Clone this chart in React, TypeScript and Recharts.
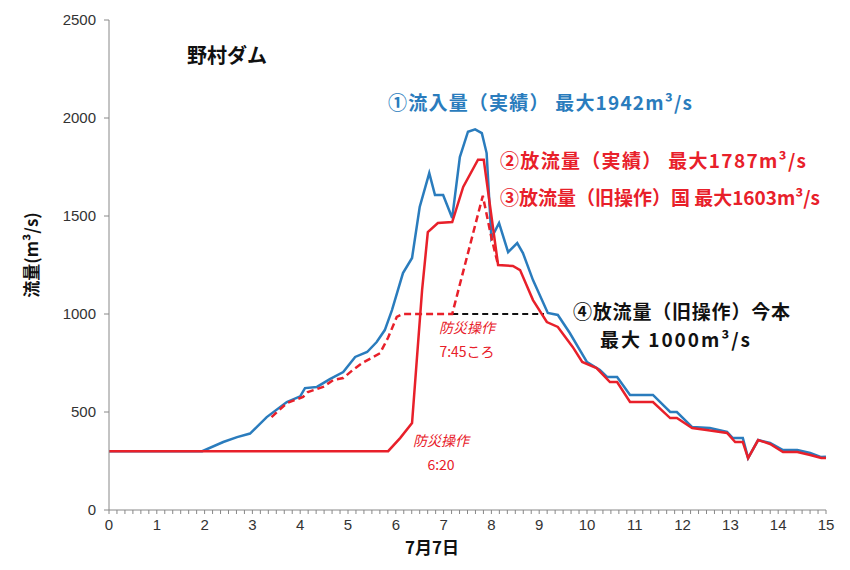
import React from 'react';
import { LineChart, Line, XAxis, YAxis } from 'recharts';

// [hour, m3/s]
const inflowActual: [number, number][] = [
  [0, 300], [1.95, 300], [2.39, 347], [2.68, 372], [2.95, 390], [3.3, 474], [3.72, 551],
  [4.0, 580], [4.1, 622], [4.35, 628], [4.62, 668], [4.9, 704], [5.15, 781], [5.4, 806],
  [5.6, 857], [5.77, 918], [5.92, 1020], [6.15, 1209], [6.34, 1286], [6.5, 1546],
  [6.7, 1719], [6.82, 1607], [6.99, 1607], [7.18, 1490], [7.34, 1801], [7.51, 1930],
  [7.66, 1942], [7.8, 1923], [7.9, 1821], [8.0, 1388], [8.16, 1464], [8.35, 1316],
  [8.54, 1362], [8.66, 1311], [8.87, 1173], [9.18, 1005], [9.39, 995], [9.64, 903],
  [10.0, 755], [10.27, 714], [10.42, 679], [10.63, 679], [10.9, 587], [11.38, 587],
  [11.74, 500], [11.88, 500], [12.2, 423], [12.57, 418], [12.93, 398], [13.05, 367],
  [13.26, 367], [13.37, 265], [13.58, 357], [13.83, 342], [14.1, 306], [14.4, 306],
  [14.67, 291], [14.9, 270], [15, 272],
];

const releaseActual: [number, number][] = [
  [0, 300], [5.84, 300], [6.09, 367], [6.34, 444], [6.45, 800], [6.55, 1122], [6.67, 1418],
  [6.88, 1464], [7.18, 1469], [7.41, 1648], [7.72, 1787], [7.84, 1787], [8.14, 1250],
  [8.45, 1245], [8.6, 1224], [8.87, 1071], [9.16, 959], [9.39, 934], [9.7, 832], [9.9, 755],
  [10.2, 724], [10.48, 653], [10.63, 653], [10.9, 551], [11.38, 551], [11.74, 469],
  [11.88, 469], [12.2, 418], [12.5, 408], [12.93, 393], [13.1, 347], [13.26, 347],
  [13.37, 265], [13.58, 357], [13.83, 337], [14.1, 296], [14.4, 296], [14.67, 281],
  [14.9, 265], [15, 265],
];

const releaseOldGov: [number, number][] = [
  [3.4, 474], [3.72, 545], [4.06, 577], [4.16, 602], [4.48, 628], [4.69, 663], [4.9, 673],
  [5.1, 714], [5.3, 750], [5.67, 800], [5.84, 880], [6.02, 985], [6.15, 1000], [7.18, 1000],
  [7.82, 1603], [8.0, 1390], [8.14, 1250],
];

const releaseOldImamoto: [number, number][] = [[7.18, 1000], [9.1, 1000]];

// 10-minute ticks, labelled on the hour
const hourTicks = Array.from({ length: 91 }, (_, i) => i / 6);
const flowTicks = [0, 500, 1000, 1500, 2000, 2500];

const toRows = (s: [number, number][]) => s.map(([t, v]) => ({ t, v }));
const hourLabel = (t: number) => (Math.abs(t - Math.round(t)) < 1e-6 ? String(Math.round(t)) : '');

const BLUE = '#2a7cbd';
const RED = '#e8202a';
const JP = "'Noto Sans CJK JP', sans-serif";
const NUM = "'Liberation Sans', Arial, sans-serif";

export default function App() {
  return (
    <div style={{ position: 'absolute', left: 0, top: 0, background: '#fff' }}>
      <LineChart width={850} height={570} margin={{ top: 20, right: 24, bottom: 0, left: 0 }}>
        <XAxis
          type="number"
          dataKey="t"
          domain={[0, 15]}
          ticks={hourTicks}
          interval={0}
          tickFormatter={hourLabel}
          tickSize={4}
          tickMargin={5}
          height={60}
          stroke="#888"
          tick={{ fill: '#333', fontSize: 15, fontFamily: NUM }}
          allowDuplicatedCategory={false}
        />
        <YAxis
          type="number"
          domain={[0, 2500]}
          ticks={flowTicks}
          width={109}
          tickSize={5}
          tickMargin={8}
          stroke="#888"
          tick={{ fill: '#333', fontSize: 15, fontFamily: NUM }}
        />
        <Line data={toRows(inflowActual)} dataKey="v" type="linear" stroke={BLUE} strokeWidth={2.5} dot={false} isAnimationActive={false} />
        <Line data={toRows(releaseOldImamoto)} dataKey="v" type="linear" stroke="#111" strokeWidth={2} strokeDasharray="6 4" dot={false} isAnimationActive={false} />
        <Line data={toRows(releaseOldGov)} dataKey="v" type="linear" stroke={RED} strokeWidth={2.5} strokeDasharray="7 4" dot={false} isAnimationActive={false} />
        <Line data={toRows(releaseActual)} dataKey="v" type="linear" stroke={RED} strokeWidth={2.5} dot={false} isAnimationActive={false} />

        <text x={187} y={63} fontSize={20} fontWeight={700} fontFamily={JP} fill="#111">野村ダム</text>
        <text x={388} y={110} fontSize={19} fontWeight={700} fontFamily={JP} fill={BLUE} textLength={304} lengthAdjust="spacing">①流入量（実績） 最大1942m³/s</text>
        <text x={500} y={168} fontSize={19} fontWeight={700} fontFamily={JP} fill={RED} textLength={306} lengthAdjust="spacing">②放流量（実績） 最大1787m³/s</text>
        <text x={500} y={205} fontSize={19} fontWeight={700} fontFamily={JP} fill={RED} textLength={320} lengthAdjust="spacing">③放流量（旧操作）国 最大1603m³/s</text>
        <text x={573} y={319} fontSize={19} fontWeight={700} fontFamily={JP} fill="#111" textLength={217} lengthAdjust="spacing">④放流量（旧操作）今本</text>
        <text x={600} y={347} fontSize={19} fontWeight={700} fontFamily={JP} fill="#111" textLength={150} lengthAdjust="spacing">最大 1000m³/s</text>
        <text x={467} y={333} fontSize={14} fontStyle="italic" fontFamily={JP} fill={RED} textAnchor="middle">防災操作</text>
        <text x={467} y={357} fontSize={14} fontFamily={JP} fill={RED} textAnchor="middle">7:45ころ</text>
        <text x={441} y={446} fontSize={14} fontStyle="italic" fontFamily={JP} fill={RED} textAnchor="middle">防災操作</text>
        <text x={441} y={470} fontSize={14} fontFamily={JP} fill={RED} textAnchor="middle">6:20</text>
        <text x={432} y={554} fontSize={17} fontWeight={700} fontFamily={JP} fill="#111" textAnchor="middle">7月7日</text>
        <text x={30} y={255} fontSize={17} fontWeight={700} fontFamily={JP} fill="#111" textAnchor="middle" dominantBaseline="central" transform="rotate(-90 30 255)">流量(m³/s)</text>
      </LineChart>
    </div>
  );
}
